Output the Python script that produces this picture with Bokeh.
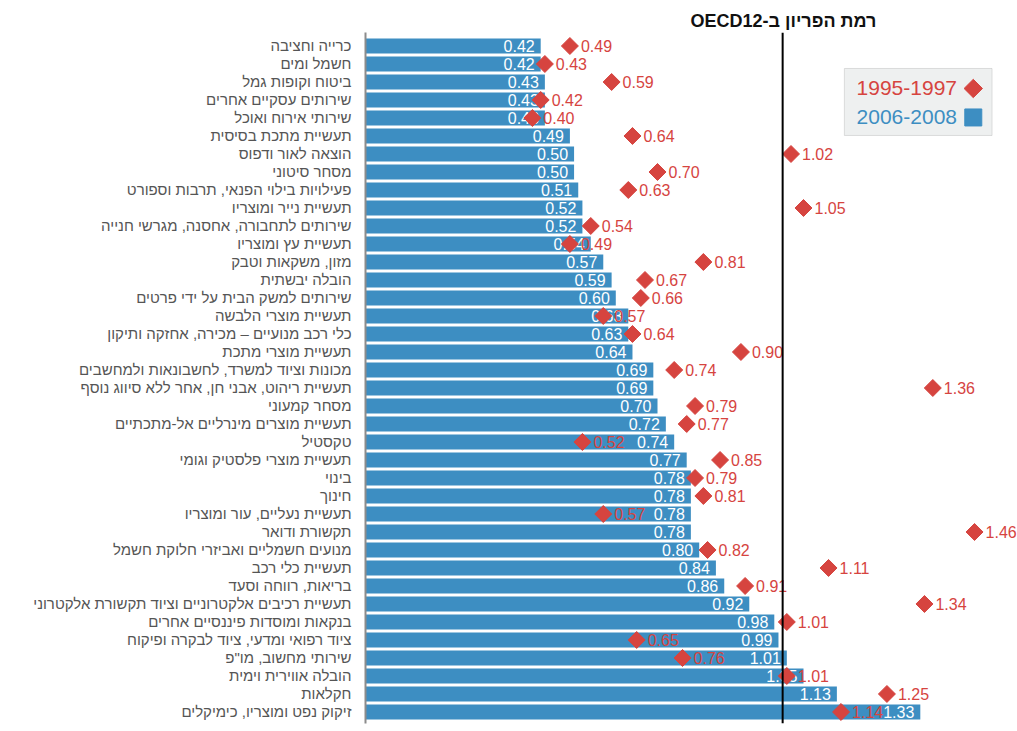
from bokeh.plotting import figure
from bokeh.models import Range1d, FixedTicker, ColumnDataSource, Span, Label, BoxAnnotation
from bokeh.embed import file_html
from bokeh.resources import INLINE
from bokeh.core.properties import value
import math

categories = [
    "כרייה וחציבה", "חשמל ומים", "ביטוח וקופות גמל", "שירותים עסקיים אחרים",
    "שירותי אירוח ואוכל", "תעשיית מתכת בסיסית", "הוצאה לאור ודפוס", "מסחר סיטוני",
    "פעילויות בילוי הפנאי, תרבות וספורט", "תעשיית נייר ומוצריו",
    "שירותים לתחבורה, אחסנה, מגרשי חנייה", "תעשיית עץ ומוצריו", "מזון, משקאות וטבק",
    "הובלה יבשתית", "שירותים למשק הבית על ידי פרטים", "תעשיית מוצרי הלבשה",
    "כלי רכב מנועיים – מכירה, אחזקה ותיקון", "תעשיית מוצרי מתכת",
    "מכונות וציוד למשרד, לחשבונאות ולמחשבים", "תעשיית ריהוט, אבני חן, אחר ללא סיווג נוסף",
    "מסחר קמעוני", "תעשיית מוצרים מינרליים אל-מתכתיים", "טקסטיל",
    "תעשיית מוצרי פלסטיק וגומי", "בינוי", "חינוך", "תעשיית נעליים, עור ומוצריו",
    "תקשורת ודואר", "מנועים חשמליים ואביזרי חלוקת חשמל", "תעשיית כלי רכב",
    "בריאות, רווחה וסעד", "תעשיית רכיבים אלקטרוניים וציוד תקשורת אלקטרוני",
    "בנקאות ומוסדות פיננסיים אחרים", "ציוד רפואי ומדעי, ציוד לבקרה ופיקוח",
    "שירותי מחשוב, מו\"פ", "הובלה אווירית וימית", "חקלאות", "זיקוק נפט ומוצריו, כימיקלים",
]
values_2006_2008 = [
    0.42, 0.42, 0.43, 0.43, 0.43, 0.49, 0.50, 0.50, 0.51, 0.52,
    0.52, 0.54, 0.57, 0.59, 0.60, 0.63, 0.63, 0.64, 0.69, 0.69,
    0.70, 0.72, 0.74, 0.77, 0.78, 0.78, 0.78, 0.78, 0.80, 0.84,
    0.86, 0.92, 0.98, 0.99, 1.01, 1.05, 1.13, 1.33,
]
values_1995_1997 = [
    0.49, 0.43, 0.59, 0.42, 0.40, 0.64, 1.02, 0.70, 0.63, 1.05,
    0.54, 0.49, 0.81, 0.67, 0.66, 0.57, 0.64, 0.90, 0.74, 1.36,
    0.79, 0.77, 0.52, 0.85, 0.79, 0.81, 0.57, 1.46, 0.82, 1.11,
    0.91, 1.34, 1.01, 0.65, 0.76, 1.01, 1.25, 1.14,
]
series_names = ["1995-1997", "2006-2008"]
oecd_level = 1.0
oecd_label = "\u202bרמת הפריון ב-OECD12\u202c"

BLUE = "#3d8ec2"
RED = "#d6443f"
FONT = "Liberation Sans"

n = len(categories)
pos = list(range(n))

src = ColumnDataSource(dict(
    y=pos,
    cat=categories,
    new=values_2006_2008,
    old=values_1995_1997,
    new_lbl=[f"{v:.2f}" for v in values_2006_2008],
    old_lbl=[f"{v:.2f}" for v in values_1995_1997],
))

p = figure(width=1017, height=731, output_backend="svg", toolbar_location=None,
           x_range=Range1d(0, 1.563), y_range=Range1d(37.64, -0.75),
           x_axis_location=None, min_border_left=365, min_border_right=0,
           min_border_top=32, min_border_bottom=8)
p.outline_line_color = None
p.xgrid.visible = False
p.ygrid.visible = False
p.background_fill_color = "white"

p.title.text = oecd_label
p.title.align = "left"
p.title.offset = 325
p.title.text_font = FONT
p.title.text_font_size = "18px"
p.title.text_font_style = "bold"
p.title.text_color = "#111111"
p.title.standoff = 4

ax = p.yaxis[0]
ax.ticker = FixedTicker(ticks=pos)
ax.major_label_overrides = {i: c for i, c in enumerate(categories)}
ax.major_tick_line_color = None
ax.minor_tick_line_color = None
ax.axis_line_color = "#8c8c8c"
ax.axis_line_width = 2
ax.major_label_text_font = FONT
ax.major_label_text_font_size = "15px"
ax.major_label_text_color = "#555555"
ax.major_label_standoff = 8

p.hbar(y="y", left=0, right="new", height=0.83, source=src,
       fill_color=BLUE, line_color=None)
p.text(x="new", y="y", text="new_lbl", source=src, x_offset=-6,
       text_align="right", text_baseline="middle", text_color="white",
       text_font=value(FONT), text_font_size="16px")

p.scatter(x="old", y="y", source=src, marker="square", angle=math.pi / 4,
          size=12, fill_color=RED, line_color=RED)
p.text(x="old", y="y", text="old_lbl", source=src, x_offset=11,
       text_align="left", text_baseline="middle", text_color=RED,
       text_font=value(FONT), text_font_size="16px")

p.add_layout(Span(location=oecd_level, dimension="height", line_color="black", line_width=2))

# legend (text on the left, key on the right)
p.add_layout(BoxAnnotation(left=1.148, right=1.502, top=1.25, bottom=4.97,
                           fill_color="#eef0f0", fill_alpha=1.0,
                           line_color="#9a9a9a", line_width=1, level="underlay"))
leg_y = [2.36, 3.97]
leg_colors = [RED, BLUE]
for name, yy, col in zip(series_names, leg_y, leg_colors):
    p.add_layout(Label(x=1.418, y=yy, text=name, text_align="right",
                       text_baseline="middle", text_font=FONT,
                       text_font_size="21px", text_color=col))
p.scatter(x=[1.457], y=[leg_y[0]], marker="square", angle=math.pi / 4, size=13,
          fill_color=RED, line_color=RED)
p.scatter(x=[1.457], y=[leg_y[1]], marker="square", size=17,
          fill_color=BLUE, line_color=BLUE)

open("out.html", "w").write(file_html(p, INLINE))
